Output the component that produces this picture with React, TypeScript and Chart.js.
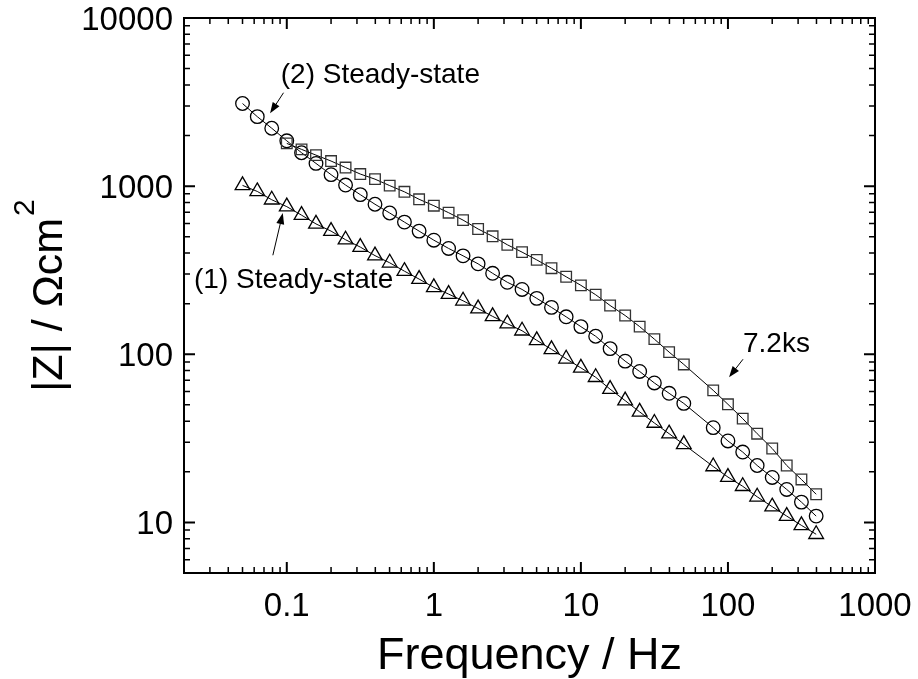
import React, { useEffect, useRef } from 'react';
import { Chart, registerables } from 'chart.js';

Chart.register(...registerables);

// Frequencies (Hz), 10 points per decade
const frequencies = [
  0.05, 0.063, 0.079, 0.1, 0.126, 0.158, 0.2, 0.251, 0.316, 0.398,
  0.501, 0.631, 0.794, 1, 1.26, 1.58, 2, 2.51, 3.16, 3.98,
  5.01, 6.31, 7.94, 10, 12.6, 15.8, 20, 25.1, 31.6, 39.8,
  50.1, 63.1, 79.4, 100, 126, 158, 200, 251, 316, 398,
];

// (1) Steady-state, triangles
const zSteady1 = [
  1010, 930, 830, 755, 672, 596, 540, 480, 434, 386,
  350, 312, 280, 250, 228, 208, 187, 168, 152, 138,
  121, 107, 94, 83, 73, 62, 53, 45.4, 39, 33.7,
  29.1, null, 21.5, 18.6, 16.4, 14.2, 12.4, 10.9, 9.6, 8.5,
];

// (2) Steady-state, circles
const zSteady2 = [
  3100, 2590, 2210, 1860, 1580, 1365, 1170, 1015, 890, 780,
  692, 611, 540, 477, 426, 385, 345, 303, 268, 243,
  215, 190, 167, 146, 128, 108, 91, 79, 67.5, 58.6,
  51, null, 36.6, 30.5, 26.2, 21.8, 18.5, 15.7, 13.2, 10.9,
];

// 7.2 ks, squares
const z72ks = [
  null, null, null, 1795, 1654, 1529, 1410, 1290, 1180, 1100,
  1007, 925, 835, 765, 695, 628, 556, 503, 448, 405,
  364, 325, 289, 257, 226, 195, 170, 146, 123, 103,
  87, null, 61, 50.4, 41.4, 33.7, 27.5, 21.8, 18, 14.7,
];

const xTickLabels = [0.1, 1, 10, 100, 1000];
const yTickLabels = [10, 100, 1000, 10000];

// Annotations in data coordinates [frequency, |Z|]
const annotations = [
  { text: '(2) Steady-state', at: [0.091, 4103], tail: [0.095, 3593], tip: [0.077, 2709] },
  { text: '(1) Steady-state', at: [0.0234, 247], tail: [0.0804, 388], tip: [0.0939, 691] },
  { text: '7.2ks', at: [126.6, 102.8], tail: [126.6, 93.4], tip: [101.7, 73] },
];

const FONT = '"Liberation Sans", Arial, Helvetica, sans-serif';

function toPoints(vals: (number | null)[]) {
  return frequencies.map((f, i) => ({ x: f, y: vals[i] }));
}

function sText(ctx: CanvasRenderingContext2D, text: string, x: number, y: number, size: number, align: CanvasTextAlign) {
  ctx.save();
  ctx.font = `${size}px ${FONT}`;
  ctx.textAlign = align;
  ctx.textBaseline = 'alphabetic';
  ctx.fillStyle = '#000';
  ctx.fillText(text, x, y);
  ctx.restore();
}

function arrow(ctx: CanvasRenderingContext2D, x1: number, y1: number, x2: number, y2: number) {
  const ang = Math.atan2(y2 - y1, x2 - x1);
  const hl = 11, hw = 4;
  ctx.save();
  ctx.strokeStyle = '#000';
  ctx.fillStyle = '#000';
  ctx.lineWidth = 1;
  ctx.beginPath();
  ctx.moveTo(x1, y1);
  ctx.lineTo(x2 - Math.cos(ang) * hl * 0.8, y2 - Math.sin(ang) * hl * 0.8);
  ctx.stroke();
  ctx.beginPath();
  ctx.moveTo(x2, y2);
  ctx.lineTo(x2 - Math.cos(ang) * hl - Math.sin(ang) * hw, y2 - Math.sin(ang) * hl + Math.cos(ang) * hw);
  ctx.lineTo(x2 - Math.cos(ang) * hl + Math.sin(ang) * hw, y2 - Math.sin(ang) * hl - Math.cos(ang) * hw);
  ctx.closePath();
  ctx.fill();
  ctx.restore();
}

const framePlugin = {
  id: 'frame',
  afterDraw(chart: any) {
    const ctx: CanvasRenderingContext2D = chart.ctx;
    const { left, right, top, bottom } = chart.chartArea;
    const xs = chart.scales.x;
    const ys = chart.scales.y;
    ctx.save();
    ctx.strokeStyle = '#000';
    const drawTicks = (scale: any, horizontal: boolean) => {
      const lo = Math.floor(Math.log10(scale.min));
      const hi = Math.ceil(Math.log10(scale.max));
      for (let d = lo; d <= hi; d++) {
        for (let m = 1; m <= 9; m++) {
          const v = m * Math.pow(10, d);
          if (v < scale.min * 0.999 || v > scale.max * 1.001) continue;
          const p = scale.getPixelForValue(v);
          const len = m === 1 ? 11 : 6;
          ctx.lineWidth = m === 1 ? 2 : 1.5;
          ctx.beginPath();
          if (horizontal) {
            ctx.moveTo(p, bottom); ctx.lineTo(p, bottom - len);
            ctx.moveTo(p, top); ctx.lineTo(p, top + len);
          } else {
            ctx.moveTo(left, p); ctx.lineTo(left + len, p);
            ctx.moveTo(right, p); ctx.lineTo(right - len, p);
          }
          ctx.stroke();
        }
      }
    };
    drawTicks(xs, true);
    drawTicks(ys, false);
    ctx.lineWidth = 2;
    ctx.strokeRect(left, top, right - left, bottom - top);

    // tick labels
    xTickLabels.forEach((v) => {
      sText(ctx, String(v), xs.getPixelForValue(v), 616, 33, 'center');
    });
    yTickLabels.forEach((v) => {
      sText(ctx, String(v), left - 11, ys.getPixelForValue(v) + 12, 33, 'right');
    });

    // x title
    sText(ctx, 'Frequency / Hz', (left + right) / 2, 669, 45, 'center');

    // y title (rotated)
    ctx.save();
    const main = '|Z| / \u03A9cm';
    ctx.font = `43px ${FONT}`;
    const w1 = ctx.measureText(main).width;
    ctx.font = `30px ${FONT}`;
    const w2 = ctx.measureText('2').width;
    const total = w1 + 2 + w2;
    const cy = (top + bottom) / 2;
    ctx.translate(62, cy + total / 2);
    ctx.rotate(-Math.PI / 2);
    ctx.fillStyle = '#000';
    ctx.textAlign = 'left';
    ctx.textBaseline = 'alphabetic';
    ctx.font = `43px ${FONT}`;
    ctx.fillText(main, 0, 0);
    ctx.font = `30px ${FONT}`;
    ctx.fillText('2', w1 + 2, -28);
    ctx.restore();

    // annotations
    annotations.forEach((a) => {
      sText(ctx, a.text, xs.getPixelForValue(a.at[0]), ys.getPixelForValue(a.at[1]), 28, 'left');
      arrow(
        ctx,
        xs.getPixelForValue(a.tail[0]), ys.getPixelForValue(a.tail[1]),
        xs.getPixelForValue(a.tip[0]), ys.getPixelForValue(a.tip[1])
      );
    });
    ctx.restore();
  },
};

export default function App() {
  const ref = useRef<HTMLCanvasElement>(null);
  useEffect(() => {
    if (!ref.current) return;
    const common = {
      borderColor: '#000',
      borderWidth: 1,
      backgroundColor: 'transparent',
      pointBackgroundColor: 'rgba(0,0,0,0)',
      pointBorderWidth: 1.3,
      spanGaps: true,
      tension: 0,
    };
    const chart = new Chart(ref.current, {
      type: 'line',
      data: {
        datasets: [
          { ...common, label: '7.2ks', data: toPoints(z72ks), pointStyle: 'rect', pointRadius: 7.5, pointBorderColor: '#333' },
          { ...common, label: '(2) Steady-state', data: toPoints(zSteady2), pointStyle: 'circle', pointRadius: 6.8, pointBorderColor: '#000' },
          { ...common, label: '(1) Steady-state', data: toPoints(zSteady1), pointStyle: 'triangle', pointRadius: 8.5, pointBorderColor: '#000' },
        ] as any,
      },
      options: {
        animation: false,
        responsive: false,
        devicePixelRatio: 1,
        layout: { padding: { top: 18, right: 43, left: 0, bottom: 0 } },
        plugins: { legend: { display: false }, tooltip: { enabled: false } },
        scales: {
          x: {
            type: 'logarithmic',
            min: 0.02,
            max: 1000,
            grid: { display: false },
            border: { display: false },
            ticks: { display: false },
            afterFit: (s: any) => { s.height = 106; },
          },
          y: {
            type: 'logarithmic',
            min: 5,
            max: 10000,
            grid: { display: false },
            border: { display: false },
            ticks: { display: false },
            afterFit: (s: any) => { s.width = 184; },
          },
        },
      } as any,
      plugins: [framePlugin],
    });
    return () => chart.destroy();
  }, []);
  return (
    <div style={{ position: 'fixed', left: 0, top: 0, width: 918, height: 679, background: '#fff' }}>
      <canvas ref={ref} width={918} height={679} />
    </div>
  );
}
